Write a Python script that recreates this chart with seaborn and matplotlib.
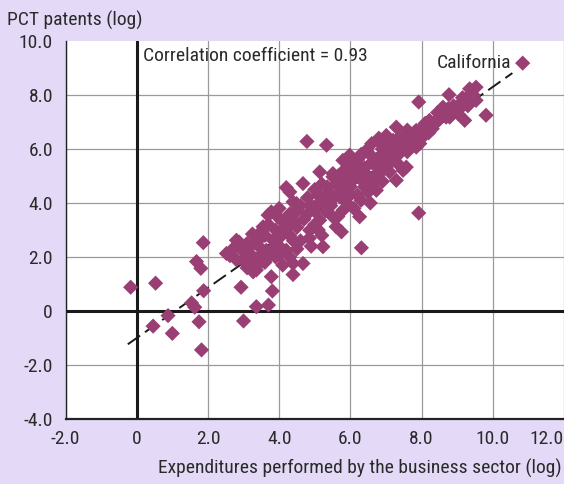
import matplotlib
matplotlib.use("Agg")
import matplotlib.pyplot as plt
import seaborn as sns
import pandas as pd
import numpy as np

# ---------------- data ----------------
# Expenditures performed by the business sector (log)
business_rd = [
    # low outliers
    -0.17, 0.53, 0.46, 0.88, 1.00, 1.87, 1.68, 1.80, 1.88, 1.54, 1.63, 1.75, 1.82,
    3.00, 2.93, 3.36, 3.70, 3.81,
    # lower cluster
    2.52, 2.62, 2.80, 2.88, 3.00, 3.08, 3.27, 3.36, 3.64, 3.18, 3.46, 3.83, 4.02, 4.20,
    3.78, 4.39, 4.39, 4.67, 5.23, 4.20, 4.86, 5.60, 4.49, 4.39, 5.42, 5.79, 4.06, 5.14,
    5.75, 4.30, 3.69, 3.55, 3.78,
    3.40, 3.60, 3.90, 4.10, 3.30, 3.60, 3.90, 4.10, 3.00, 2.80, 3.25, 4.30, 4.50, 4.00,
    4.30, 4.60, 4.90, 5.20, 4.70, 5.00, 5.30, 5.50, 4.50, 3.90,
    2.70, 3.10, 3.50, 3.70, 3.20, 3.40, 3.80, 4.00, 4.30, 4.50, 4.40, 4.00, 3.70, 4.20,
    4.40, 4.60, 4.80, 5.00, 5.10, 4.85, 3.10, 2.95, 3.50, 3.95,
    # middle band
    4.78, 5.33, 5.14, 4.67, 4.20, 6.56, 7.92, 6.31, 5.75, 6.26, 5.98, 6.45, 7.10, 7.57,
    7.85, 7.29, 7.57, 6.91, 6.73, 5.51, 5.70, 5.14, 7.29, 7.01, 6.26, 5.79, 5.51,
    4.80, 5.00, 5.20, 5.40, 5.60, 5.80, 6.00, 6.20, 6.40, 6.60, 6.80, 6.00, 6.20, 6.40,
    5.90, 5.70, 6.10, 6.30, 6.70, 6.90, 6.90, 6.60, 6.80, 7.00, 7.30, 7.20, 7.50, 7.60,
    4.90, 5.30, 6.10, 6.50, 5.95,
    5.10, 5.35, 5.55, 5.80, 5.65, 5.90, 6.10, 6.30, 6.50, 6.70, 6.55, 6.20, 5.85, 6.35,
    6.60, 6.95, 7.15, 7.10, 5.45, 5.65, 6.00, 6.30,
    # upper band
    10.84, 7.92, 8.77, 9.35, 9.53, 9.81, 9.21, 9.53, 9.25, 9.07, 8.79, 8.60, 8.41, 8.04,
    7.76, 7.76, 7.38, 7.20, 7.01, 7.38, 7.01, 7.48, 9.02, 8.22, 8.69, 7.85,
    8.00, 8.20, 8.30, 8.10, 8.90, 9.40, 9.30,
    7.70, 7.90, 8.10, 8.35, 8.50, 8.65, 8.90, 9.10, 8.20, 7.95, 7.40, 7.60, 8.45, 8.75,
    9.15, 9.45, 7.25, 6.85,
]
# PCT patents (log)
pct_patents = [
    # low outliers
    0.88, 1.03, -0.56, -0.17, -0.83, 2.53, 1.83, 1.58, 0.75, 0.30, 0.14, -0.40, -1.44,
    -0.37, 0.88, 0.16, 0.22, 0.74,
    # lower cluster
    2.13, 2.05, 2.62, 2.55, 1.89, 1.77, 1.45, 1.52, 2.25, 2.38, 2.00, 2.62, 2.38, 2.25,
    1.27, 1.35, 1.76, 1.76, 2.38, 3.12, 2.99, 3.12, 3.98, 4.04, 3.98, 3.73, 3.36, 3.36,
    4.41, 4.41, 3.55, 3.12, 3.67,
    2.60, 2.80, 3.00, 2.90, 1.90, 1.80, 2.00, 1.70, 2.20, 1.90, 2.85, 3.60, 3.70, 3.80,
    2.80, 2.60, 2.40, 2.80, 3.40, 3.70, 3.70, 3.50, 3.10, 2.60,
    2.30, 2.50, 2.30, 2.00, 2.10, 1.70, 2.30, 2.10, 2.00, 2.30, 2.60, 2.70, 3.20, 3.40,
    3.30, 3.90, 3.60, 3.20, 3.00, 2.70, 1.60, 2.40, 2.95, 3.50,
    # middle band
    6.28, 6.14, 5.15, 4.72, 4.57, 4.00, 3.63, 2.34, 2.93, 3.49, 5.77, 5.95, 6.32, 6.50,
    6.07, 4.84, 5.33, 5.21, 4.47, 5.09, 4.23, 4.04, 6.81, 6.50, 5.70, 5.58, 4.97,
    4.20, 4.50, 4.70, 4.40, 4.70, 5.00, 5.20, 5.00, 5.30, 5.50, 5.70, 4.60, 4.30, 4.60,
    4.00, 4.60, 5.50, 5.80, 5.00, 4.80, 6.00, 6.20, 6.40, 6.10, 5.50, 5.90, 6.20, 5.90,
    3.90, 4.20, 3.80, 4.40, 5.40,
    4.30, 4.60, 4.20, 4.40, 5.00, 4.80, 4.90, 5.30, 5.00, 5.40, 5.80, 5.60, 5.25, 4.80,
    4.70, 5.50, 5.60, 5.15, 3.90, 3.50, 4.30, 4.10,
    # upper band
    9.18, 7.74, 8.01, 8.23, 8.29, 7.25, 7.06, 7.80, 7.86, 7.49, 7.18, 7.55, 7.06, 6.81,
    6.57, 6.20, 6.44, 6.32, 5.95, 5.83, 5.33, 5.21, 7.31, 7.06, 7.18, 6.69,
    6.40, 6.60, 6.75, 6.95, 7.60, 7.95, 7.60,
    6.35, 6.60, 6.70, 6.90, 7.10, 7.30, 7.35, 7.70, 6.85, 6.20, 6.10, 6.70, 7.35, 7.50,
    7.90, 8.00, 6.00, 6.20,
]

# fitted trend line as drawn in the reference
fit_slope = 0.93
fit_intercept = -1.0
fit_x_range = [-0.25, 10.55]

x_ticks = [-2, 0, 2, 4, 6, 8, 10, 12]
x_tick_labels = ["-2.0", "0", "2.0", "4.0", "6.0", "8.0", "10.0", "12.0"]
y_ticks = [-4, -2, 0, 2, 4, 6, 8, 10]
y_tick_labels = ["-4.0", "-2.0", "0", "2.0", "4.0", "6.0", "8.0", "10.0"]

y_title = "PCT patents (log)"
x_title = "Expenditures performed by the business sector (log)"
corr_text = "Correlation coefficient = 0.93"
highlight_label = "California"
highlight_xy = (10.52, 9.2)
corr_xy = (0.17, 9.46)

# ---------------- style ----------------
BG = "#E4DAF8"
MARK = "#9A3F74"
TXT = "#2a2a2a"

sns.set_theme(style="white")
plt.rcParams['font.family'] = ['Roboto Condensed', 'Liberation Sans', 'DejaVu Sans']
FS = 14

df = pd.DataFrame({"rd": business_rd, "pct": pct_patents})

fig = plt.figure(figsize=(5.64, 4.84), dpi=100, facecolor=BG)
W, H = 564, 484
ax = fig.add_axes([65.5 / W, 1 - 419 / H, (W - 65.5) / W, (419 - 41) / H])
ax.set_facecolor("white")

ax.set_xlim(-2, 12)
ax.set_ylim(-4, 10)
ax.set_xticks(x_ticks)
ax.set_xticklabels(x_tick_labels)
ax.set_yticks(y_ticks)
ax.set_yticklabels(y_tick_labels)
ax.grid(True, color="#9a9a9a", linewidth=0.9, zorder=0)
ax.set_axisbelow(True)
ax.get_ygridlines()[-1].set_visible(False)

ax.tick_params(axis="both", direction="in", length=5, width=1.0, color="#222222",
               labelsize=FS, labelcolor=TXT)
ax.tick_params(axis="x", pad=8)
ax.tick_params(axis="y", pad=9)
ax.get_xticklabels()[-1].set_ha("right")

for s in ["top", "right"]:
    ax.spines[s].set_visible(False)
ax.spines["left"].set_color("#222222")
ax.spines["left"].set_linewidth(1.0)
ax.spines["bottom"].set_color("#222222")
ax.spines["bottom"].set_linewidth(1.6)

ax.axvline(0, color="#1a1a1a", linewidth=2.2, zorder=1)
ax.axhline(0, color="#1a1a1a", linewidth=2.2, zorder=1)

fx = np.array(fit_x_range)
ax.plot(fx, fit_intercept + fit_slope * fx, color="#1a1a1a", linewidth=1.4,
        dashes=(7.7, 3.1), zorder=2)

sns.scatterplot(data=df, x="rd", y="pct", marker="D", s=60, color=MARK,
                edgecolor="none", linewidth=0, ax=ax, zorder=3, legend=False)
ax.set_xlabel("")
ax.set_ylabel("")

ax.text(corr_xy[0], corr_xy[1], corr_text, ha="left", va="center",
        fontsize=FS, color=TXT, zorder=4)
ax.text(highlight_xy[0], highlight_xy[1], highlight_label, ha="right", va="center",
        fontsize=FS, color=TXT, zorder=4)

fig.text(7 / W, 1 - 20 / H, y_title, ha="left", va="center", fontsize=FS, color=TXT)
fig.text(562 / W, 1 - 468 / H, x_title, ha="right", va="center", fontsize=FS, color=TXT)

fig.savefig("out.png", dpi=100, facecolor=BG)
